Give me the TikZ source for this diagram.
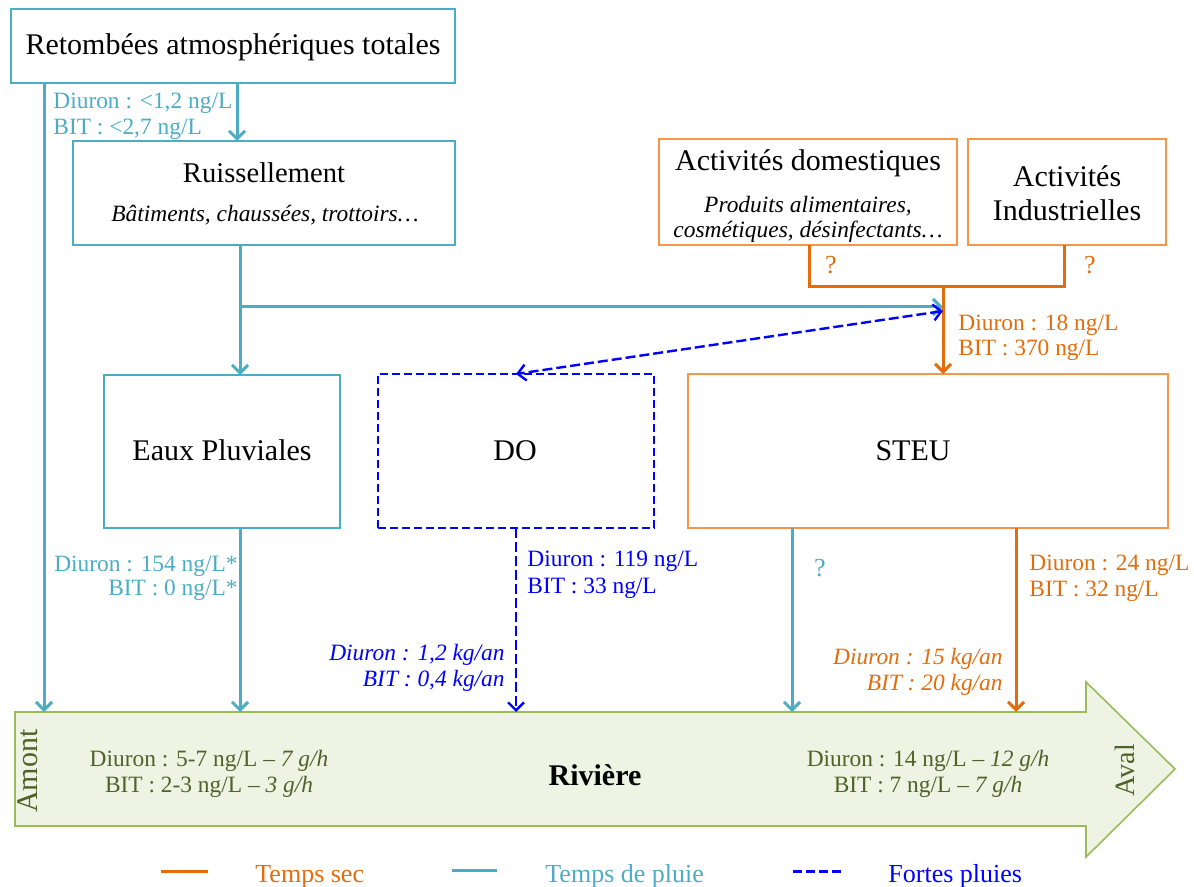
\documentclass[tikz,border=0pt]{standalone}
\usepackage{fontspec}
\setmainfont{Liberation Serif}
\usetikzlibrary{arrows.meta}
\definecolor{tealc}{HTML}{4BACC6}
\definecolor{orng}{HTML}{E46C0A}
\definecolor{orngbox}{HTML}{F79646}
\definecolor{blu}{HTML}{0000FF}
\definecolor{rivfill}{HTML}{EEF3E3}
\definecolor{rivdraw}{HTML}{9BBB59}
\definecolor{rivtext}{HTML}{4F6228}
\begin{document}
\begin{tikzpicture}[x=0.5pt,y=-0.5pt,
  tbox/.style={draw=tealc, line width=0.65pt, inner sep=0pt, outer sep=0pt},
  obox/.style={draw=orngbox, line width=0.65pt, inner sep=0pt, outer sep=0pt},
  bbox/.style={draw=blu, line width=1.1pt, dash pattern=on 4pt off 2pt, inner sep=0pt, outer sep=0pt},
  ta/.style={draw=tealc, line width=1.5pt, -{Straight Barb[length=4pt,width=8pt]}},
  oa/.style={draw=orng, line width=1.5pt, -{Straight Barb[length=4pt,width=8pt]}},
  ol/.style={draw=orng, line width=1.5pt},
  ba/.style={draw=blu, line width=1.2pt, dash pattern=on 5pt off 2pt, -{Straight Barb[length=4pt,width=8pt]}},
  bba/.style={draw=blu, line width=1.2pt, dash pattern=on 5pt off 2pt, {Straight Barb[length=4pt,width=8pt]}-{Straight Barb[length=4pt,width=8pt]}},
  ln/.style={inner sep=0pt, text height=0.7em, text depth=0.2em, yshift=-2pt},
  title/.style={ln, font=\fontsize{15}{18}\selectfont},
  sub/.style={ln, font=\fontsize{11.7}{13}\selectfont\itshape},
  lbl/.style={ln, font=\fontsize{11.7}{13}\selectfont},
  ilbl/.style={ln, font=\fontsize{11.7}{13}\selectfont\itshape},
  leg/.style={ln, font=\fontsize{13}{15}\selectfont, anchor=west},
  vert/.style={inner sep=0pt, text height=0.7em, text depth=0.2em, rotate=90, text=rivtext},
  river/.style={draw=rivdraw, fill=rivfill, line width=0.8pt, line join=miter}
]
\useasboundingbox (0,0) rectangle (1194,887);

% river
\draw[river] (15,712) -- (1086,712) -- (1086,682) -- (1175,769) -- (1086,857) -- (1086,826) -- (15,826) -- cycle;
\coordinate (rivtop) at (0,712);

% boxes
\node[tbox, minimum width=222pt, minimum height=37pt] (ret) at (233,46) {};
\node[title] (rett) at (233,46) {Retombées atmosphériques totales};

\node[tbox, minimum width=191pt, minimum height=52pt] (ruis) at (264,193) {};
\node[title, font=\fontsize{14.3}{17}\selectfont] (ruist) at (264,174) {Ruissellement};
\node[sub] (ruiss) at (265,213) {Bâtiments, chaussées, trottoirs…};

\node[obox, minimum width=149pt, minimum height=53pt] (dom) at (808,192) {};
\node[title] (domt) at (808,162) {Activités domestiques};
\node[sub] (doms1) at (808,204) {Produits alimentaires,};
\node[sub] (doms2) at (808,229) {cosmétiques, désinfectants…};

\node[obox, minimum width=99pt, minimum height=53pt] (ind) at (1067,192) {};
\node[title] (indt1) at (1067,178) {Activités};
\node[title] (indt2) at (1067,212) {Industrielles};

\node[tbox, minimum width=118pt, minimum height=76.5pt] (eaux) at (222,451.5) {};
\node[title] (eauxt) at (222,451) {Eaux Pluviales};

\node[bbox, minimum width=138pt, minimum height=77pt] (do) at (516,451) {};
\node[title] (dot) at (515,451) {DO};

\node[obox, minimum width=240pt, minimum height=77pt] (steu) at (928,451) {};
\node[title] (steut) at (913,451) {STEU};

% x / y reference coordinates
\coordinate (xA) at (44,0);
\coordinate (xB) at (237,0);
\coordinate (xC) at (240,0);
\coordinate (xD) at (516,0);
\coordinate (xE) at (792,0);
\coordinate (xF) at (1016,0);
\coordinate (xG) at (943,0);
\coordinate (xH) at (809,0);
\coordinate (xI) at (1064,0);
\coordinate (yJ) at (0,307);
\coordinate (yB) at (0,311);
\coordinate (yK) at (0,287);

% connectors
\draw[ta] (ret.south -| xA) -- (xA |- rivtop);
\draw[ta] (ret.south -| xB) -- (ruis.north -| xB);
\draw[ta] (ruis.south -| xC) -- (eaux.north -| xC);
\draw[ta] (xC |- yJ) -- (xG |- yJ);
\draw[ol] (dom.south -| xH) -- (xH |- yK) -- (xI |- yK) -- (ind.south -| xI);
\draw[oa] (xG |- yK) -- (steu.north -| xG);
\draw[bba] (xG |- yB) -- (do.north -| xD);
\draw[ba] (do.south -| xD) -- (xD |- rivtop);
\draw[ta] (eaux.south -| xC) -- (xC |- rivtop);
\draw[ta] (steu.south -| xE) -- (xE |- rivtop);
\draw[oa] (steu.south -| xF) -- (xF |- rivtop);

% labels
\node[lbl, text=tealc, anchor=west] (l1a) at (53,100) {Diuron : <1,2 ng/L};
\node[lbl, text=tealc, anchor=west] (l1b) at (53,126) {BIT : <2,7 ng/L};

\node[lbl, text=orng, anchor=west] (l2a) at (958,322) {Diuron : 18 ng/L};
\node[lbl, text=orng, anchor=west] (l2b) at (958,347) {BIT : 370 ng/L};
\node[ln, text=orng, font=\fontsize{13}{15}\selectfont] (q1) at (831,265) {?};
\node[ln, text=orng, font=\fontsize{13}{15}\selectfont] (q2) at (1090,265) {?};

\node[lbl, text=tealc, anchor=east] (l3a) at (238,562) {Diuron : 154 ng/L*};
\node[lbl, text=tealc, anchor=east] (l3b) at (238,586) {BIT : 0 ng/L*};

\node[lbl, text=blu, anchor=west] (l4a) at (527,558) {Diuron : 119 ng/L};
\node[lbl, text=blu, anchor=west] (l4b) at (527,584) {BIT : 33 ng/L};
\node[ilbl, text=blu, anchor=east] (l5a) at (505,651) {Diuron : 1,2 kg/an};
\node[ilbl, text=blu, anchor=east] (l5b) at (505,677) {BIT : 0,4 kg/an};

\node[ln, text=tealc, font=\fontsize{13}{15}\selectfont] (q3) at (820,567) {?};

\node[lbl, text=orng, anchor=west] (l6a) at (1029,561) {Diuron : 24 ng/L};
\node[lbl, text=orng, anchor=west] (l6b) at (1029,587) {BIT : 32 ng/L};
\node[ilbl, text=orng, anchor=east] (l7a) at (1003,655) {Diuron : 15 kg/an};
\node[ilbl, text=orng, anchor=east] (l7b) at (1003,681) {BIT : 20 kg/an};

% river texts
\node[lbl, text=rivtext] (r1a) at (209,757) {Diuron : 5-7 ng/L – \textit{7 g/h}};
\node[lbl, text=rivtext] (r1b) at (209,783) {BIT : 2-3 ng/L – \textit{3 g/h}};
\node[lbl, text=rivtext] (r2a) at (928,757) {Diuron : 14 ng/L – \textit{12 g/h}};
\node[lbl, text=rivtext] (r2b) at (928,783) {BIT : 7 ng/L – \textit{7 g/h}};
\node[ln, font=\fontsize{15}{18}\selectfont\bfseries] (riv) at (595,776) {Rivière};
\node[vert, font=\fontsize{15}{18}\selectfont] (amont) at (32,771) {Amont};
\node[vert, font=\fontsize{14}{17}\selectfont] (aval) at (1129,770) {Aval};

% legend
\coordinate (lg1a) at (161,871); \coordinate (lg1b) at (208,871);
\coordinate (lg2a) at (452,870); \coordinate (lg2b) at (497,870);
\coordinate (lg3a) at (793,871); \coordinate (lg3b) at (842,871);
\draw[ol] (lg1a) -- (lg1b);
\draw[draw=tealc, line width=1.5pt] (lg2a) -- (lg2b);
\draw[draw=blu, line width=1.5pt, dash pattern=on 4.5pt off 2pt] (lg3a) -- (lg3b);
\node[leg, text=orng] (leg1) at (255,873) {Temps sec};
\node[leg, text=tealc] (leg2) at (545,873) {Temps de pluie};
\node[leg, text=blu] (leg3) at (888,873) {Fortes pluies};
\end{tikzpicture}
\end{document}
